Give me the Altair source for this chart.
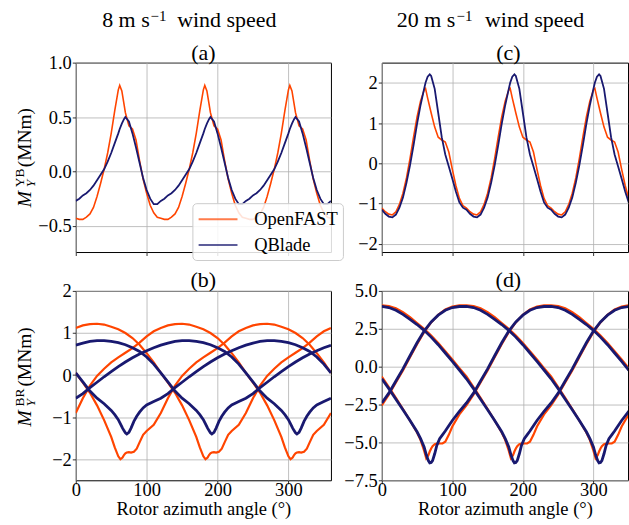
import altair as alt
import pandas as pd

FONT = "Liberation Serif"
MODELS = ["OpenFAST", "QBlade"]
COLORS = ["#ff4500", "#191970"]

# ---------------- top row: yaw-bearing moment (one curve per model) ----------------
TOP_ANGLES = [0, 5, 10, 15, 20, 25, 30, 35, 40, 45, 50, 55, 60, 62, 65, 68, 70, 75, 80, 85, 90, 95, 100, 105, 110, 115,
              120, 125, 130, 135, 140, 145, 150, 155, 160, 165, 170, 175, 180, 182, 185, 188, 190, 195, 200, 205, 210, 215, 220, 225, 230, 235,
              240, 245, 250, 255, 260, 265, 270, 275, 280, 285, 290, 295, 300, 302, 305, 308, 310, 315, 320, 325, 330, 335, 340, 345, 350, 355,
              360]

A_OPENFAST = [-0.43, -0.44, -0.44, -0.42, -0.39, -0.33, -0.23, -0.11, 0.02, 0.17, 0.35, 0.56, 0.75, 0.79, 0.74, 0.62, 0.54, 0.42, 0.39, 0.29, 0.10, -0.07, -0.20, -0.31, -0.38, -0.42,
              -0.43, -0.44, -0.44, -0.42, -0.39, -0.33, -0.23, -0.11, 0.02, 0.17, 0.35, 0.56, 0.75, 0.79, 0.74, 0.62, 0.54, 0.42, 0.39, 0.29, 0.10, -0.07, -0.20, -0.31, -0.38, -0.42,
              -0.43, -0.44, -0.44, -0.42, -0.39, -0.33, -0.23, -0.11, 0.02, 0.17, 0.35, 0.56, 0.75, 0.79, 0.74, 0.62, 0.54, 0.42, 0.39, 0.29, 0.10, -0.07, -0.20, -0.31, -0.38, -0.42,
              -0.43]
A_QBLADE = [-0.27, -0.25, -0.22, -0.20, -0.17, -0.13, -0.08, -0.03, 0.02, 0.09, 0.17, 0.26, 0.35, 0.39, 0.44, 0.48, 0.50, 0.46, 0.35, 0.22, 0.08, -0.06, -0.17, -0.25, -0.30, -0.30,
            -0.27, -0.25, -0.22, -0.20, -0.17, -0.13, -0.08, -0.03, 0.02, 0.09, 0.17, 0.26, 0.35, 0.39, 0.44, 0.48, 0.50, 0.46, 0.35, 0.22, 0.08, -0.06, -0.17, -0.25, -0.30, -0.30,
            -0.27, -0.25, -0.22, -0.20, -0.17, -0.13, -0.08, -0.03, 0.02, 0.09, 0.17, 0.26, 0.35, 0.39, 0.44, 0.48, 0.50, 0.46, 0.35, 0.22, 0.08, -0.06, -0.17, -0.25, -0.30, -0.30,
            -0.27]
C_OPENFAST = [-1.11, -1.20, -1.26, -1.28, -1.20, -1.02, -0.74, -0.36, 0.12, 0.65, 1.15, 1.55, 1.82, 1.86, 1.62, 1.40, 1.25, 0.90, 0.65, 0.58, 0.53, 0.28, -0.15, -0.55, -0.87, -1.05,
              -1.11, -1.20, -1.26, -1.28, -1.20, -1.02, -0.74, -0.36, 0.12, 0.65, 1.15, 1.55, 1.82, 1.86, 1.62, 1.40, 1.25, 0.90, 0.65, 0.58, 0.53, 0.28, -0.15, -0.55, -0.87, -1.05,
              -1.11, -1.20, -1.26, -1.28, -1.20, -1.02, -0.74, -0.36, 0.12, 0.65, 1.15, 1.55, 1.82, 1.86, 1.62, 1.40, 1.25, 0.90, 0.65, 0.58, 0.53, 0.28, -0.15, -0.55, -0.87, -1.05,
              -1.11]
C_QBLADE = [-1.15, -1.25, -1.32, -1.34, -1.27, -1.10, -0.85, -0.48, -0.05, 0.45, 0.98, 1.45, 1.85, 2.00, 2.15, 2.21, 2.17, 1.85, 1.25, 0.65, 0.22, -0.08, -0.38, -0.70, -0.97, -1.10,
            -1.15, -1.25, -1.32, -1.34, -1.27, -1.10, -0.85, -0.48, -0.05, 0.45, 0.98, 1.45, 1.85, 2.00, 2.15, 2.21, 2.17, 1.85, 1.25, 0.65, 0.22, -0.08, -0.38, -0.70, -0.97, -1.10,
            -1.15, -1.25, -1.32, -1.34, -1.27, -1.10, -0.85, -0.48, -0.05, 0.45, 0.98, 1.45, 1.85, 2.00, 2.15, 2.21, 2.17, 1.85, 1.25, 0.65, 0.22, -0.08, -0.38, -0.70, -0.97, -1.10,
            -1.15]

# ---------------- bottom row: blade-root moment, three blades per model ----------------
BLADE1_ANGLES = [0, 10, 20, 30, 40, 50, 55, 60, 63, 66, 68, 70, 72, 75, 78, 82, 86, 90, 95, 100, 110, 120, 130, 140, 150,
                 160, 170, 180, 190, 200, 210, 220, 230, 240, 250, 260, 270, 280, 290, 300, 310, 320, 330, 340, 350, 360]
BLADE2_ANGLES = [0, 10, 20, 30, 40, 50, 60, 70, 80, 90, 100, 110, 120, 130, 140, 150, 160, 170, 175, 180, 183, 186, 188, 190,
                 192, 195, 198, 202, 206, 210, 215, 220, 230, 240, 250, 260, 270, 280, 290, 300, 310, 320, 330, 340, 350, 360]
BLADE3_ANGLES = [0, 10, 20, 30, 40, 50, 60, 70, 80, 90, 100, 110, 120, 130, 140, 150, 160, 170, 180, 190, 200, 210, 220, 230,
                 240, 250, 260, 270, 280, 290, 295, 300, 303, 306, 308, 310, 312, 315, 318, 322, 326, 330, 335, 340, 350, 360]

# panel (b), 8 m/s
B_OPENFAST_1 = [0.05, -0.18, -0.42, -0.72, -1.07, -1.47, -1.72, -1.93, -2.0, -1.96, -1.9, -1.86, -1.84, -1.83, -1.84, -1.82, -1.75, -1.6, -1.42,
                -1.33, -1.18, -0.9, -0.55, -0.25, -0.02, 0.15, 0.3, 0.42, 0.53, 0.64, 0.77, 0.92, 1.04, 1.12, 1.18, 1.21, 1.22, 1.2, 1.15, 1.09, 1.0, 0.88, 0.72, 0.52, 0.3, 0.05]
B_OPENFAST_2 = [1.12, 1.18, 1.21, 1.22, 1.2, 1.15, 1.09, 1.0, 0.88, 0.72, 0.52, 0.3, 0.05,
                -0.18, -0.42, -0.72, -1.07, -1.47,
                -1.72, -1.93, -2.0, -1.96, -1.9, -1.86, -1.84, -1.83, -1.84, -1.82, -1.75, -1.6, -1.42,
                -1.33, -1.18, -0.9, -0.55, -0.25, -0.02, 0.15, 0.3, 0.42, 0.53, 0.64, 0.77, 0.92, 1.04, 1.12]
B_OPENFAST_3 = [-0.9, -0.55, -0.25, -0.02, 0.15, 0.3, 0.42, 0.53, 0.64, 0.77, 0.92, 1.04, 1.12, 1.18, 1.21, 1.22, 1.2, 1.15, 1.09, 1.0, 0.88, 0.72, 0.52, 0.3, 0.05,
                -0.18, -0.42, -0.72, -1.07, -1.47,
                -1.72, -1.93, -2.0, -1.96, -1.9, -1.86, -1.84, -1.83, -1.84, -1.82, -1.75, -1.6, -1.42,
                -1.33, -1.18, -0.9]
B_QBLADE_1 = [0.05, -0.16, -0.38, -0.55, -0.68, -0.84, -0.94, -1.06, -1.16, -1.26, -1.32, -1.37, -1.4, -1.36, -1.26, -1.1, -0.98, -0.88, -0.78,
              -0.71, -0.63, -0.55, -0.44, -0.3, -0.17, -0.04, 0.08, 0.2, 0.31, 0.41, 0.5, 0.58, 0.65, 0.71, 0.76, 0.8, 0.82, 0.82, 0.8, 0.77, 0.72, 0.65, 0.56, 0.43, 0.26, 0.05]
B_QBLADE_2 = [0.71, 0.76, 0.8, 0.82, 0.82, 0.8, 0.77, 0.72, 0.65, 0.56, 0.43, 0.26, 0.05,
              -0.16, -0.38, -0.55, -0.68, -0.84,
              -0.94, -1.06, -1.16, -1.26, -1.32, -1.37, -1.4, -1.36, -1.26, -1.1, -0.98, -0.88, -0.78,
              -0.71, -0.63, -0.55, -0.44, -0.3, -0.17, -0.04, 0.08, 0.2, 0.31, 0.41, 0.5, 0.58, 0.65, 0.71]
B_QBLADE_3 = [-0.55, -0.44, -0.3, -0.17, -0.04, 0.08, 0.2, 0.31, 0.41, 0.5, 0.58, 0.65, 0.71, 0.76, 0.8, 0.82, 0.82, 0.8, 0.77, 0.72, 0.65, 0.56, 0.43, 0.26, 0.05,
              -0.16, -0.38, -0.55, -0.68, -0.84,
              -0.94, -1.06, -1.16, -1.26, -1.32, -1.37, -1.4, -1.36, -1.26, -1.1, -0.98, -0.88, -0.78,
              -0.71, -0.63, -0.55]

# panel (d), 20 m/s
D_OPENFAST_1 = [-0.65, -1.35, -2.05, -2.8, -3.55, -4.35, -4.85, -5.55, -6.05, -5.85, -5.6, -5.4, -5.25, -5.12, -5.08, -5.07, -5.07, -4.95, -4.5,
                -3.95, -3.15, -2.55, -1.85, -1.05, -0.25, 0.62, 1.48, 2.28, 2.92, 3.42, 3.78, 3.97, 4.05, 4.05, 4.0, 3.85, 3.6, 3.27, 2.88, 2.5, 2.06, 1.56, 1.02, 0.47, -0.1, -0.65]
D_OPENFAST_2 = [4.05, 4.0, 3.85, 3.6, 3.27, 2.88, 2.5, 2.06, 1.56, 1.02, 0.47, -0.1, -0.65,
                -1.35, -2.05, -2.8, -3.55, -4.35,
                -4.85, -5.55, -6.05, -5.85, -5.6, -5.4, -5.25, -5.12, -5.08, -5.07, -5.07, -4.95, -4.5,
                -3.95, -3.15, -2.55, -1.85, -1.05, -0.25, 0.62, 1.48, 2.28, 2.92, 3.42, 3.78, 3.97, 4.05, 4.05]
D_OPENFAST_3 = [-2.55, -1.85, -1.05, -0.25, 0.62, 1.48, 2.28, 2.92, 3.42, 3.78, 3.97, 4.05, 4.05, 4.0, 3.85, 3.6, 3.27, 2.88, 2.5, 2.06, 1.56, 1.02, 0.47, -0.1, -0.65,
                -1.35, -2.05, -2.8, -3.55, -4.35,
                -4.85, -5.55, -6.05, -5.85, -5.6, -5.4, -5.25, -5.12, -5.08, -5.07, -5.07, -4.95, -4.5,
                -3.95, -3.15, -2.55]
D_QBLADE_1 = [-0.8, -1.45, -2.15, -2.85, -3.55, -4.3, -4.75, -5.3, -5.8, -6.2, -6.35, -6.33, -6.2, -5.75, -5.2, -4.75, -4.5, -4.25, -3.9,
              -3.55, -2.95, -2.4, -1.75, -0.95, -0.15, 0.72, 1.58, 2.35, 2.95, 3.4, 3.72, 3.9, 3.97, 3.98, 3.9, 3.72, 3.45, 3.12, 2.78, 2.4, 1.95, 1.45, 0.9, 0.35, -0.22, -0.8]
D_QBLADE_2 = [3.98, 3.9, 3.72, 3.45, 3.12, 2.78, 2.4, 1.95, 1.45, 0.9, 0.35, -0.22, -0.8,
              -1.45, -2.15, -2.85, -3.55, -4.3,
              -4.75, -5.3, -5.8, -6.2, -6.35, -6.33, -6.2, -5.75, -5.2, -4.75, -4.5, -4.25, -3.9,
              -3.55, -2.95, -2.4, -1.75, -0.95, -0.15, 0.72, 1.58, 2.35, 2.95, 3.4, 3.72, 3.9, 3.97, 3.98]
D_QBLADE_3 = [-2.4, -1.75, -0.95, -0.15, 0.72, 1.58, 2.35, 2.95, 3.4, 3.72, 3.9, 3.97, 3.98, 3.9, 3.72, 3.45, 3.12, 2.78, 2.4, 1.95, 1.45, 0.9, 0.35, -0.22, -0.8,
              -1.45, -2.15, -2.85, -3.55, -4.3,
              -4.75, -5.3, -5.8, -6.2, -6.35, -6.33, -6.2, -5.75, -5.2, -4.75, -4.5, -4.25, -3.9,
              -3.55, -2.95, -2.4]

X_TICKS = [0, 100, 200, 300]
WIND_SPEEDS = ["8", "20"]
PANEL_LETTERS = ["(a)", "(b)", "(c)", "(d)"]


def top_frame(of_vals, qb_vals):
    rows = []
    for model, vals in zip(MODELS, (of_vals, qb_vals)):
        assert len(vals) == len(TOP_ANGLES)
        rows += [{"angle": a, "value": v, "model": model, "blade": 1} for a, v in zip(TOP_ANGLES, vals)]
    return pd.DataFrame(rows)


def bottom_frame(of_series, qb_series):
    rows = []
    grids = (BLADE1_ANGLES, BLADE2_ANGLES, BLADE3_ANGLES)
    for model, series in zip(MODELS, (of_series, qb_series)):
        for blade, (angles, vals) in enumerate(zip(grids, series), start=1):
            assert len(angles) == len(vals)
            rows += [{"angle": a, "value": v, "model": model, "blade": blade} for a, v in zip(angles, vals)]
    return pd.DataFrame(rows)


LEGEND = alt.Legend(orient="none", legendX=117, legendY=141, title=None, direction="vertical",
                    symbolType="M-1,0H3", symbolSize=380, symbolStrokeWidth=2, symbolOpacity=0.7,
                    labelFont=FONT, labelFontSize=18.5, labelColor="black", labelOffset=35,
                    padding=5, rowPadding=5, strokeColor="#cccccc",
                    fillColor="rgba(255,255,255,0.85)", cornerRadius=4)

_ONE = alt.Data(values=[{"k": 0}])


def text(t, x, y, size, style="normal", angle=0, align="left"):
    return alt.Chart(_ONE).mark_text(text=t, font=FONT, fontSize=size, fontStyle=style, angle=angle,
                                     align=align, baseline="alphabetic", color="black").encode(
        x=alt.value(x), y=alt.value(y))


def ylabel_layers(sup, y0):
    return [text("M", -45, y0, 19.5, "italic", 270),
            text("Y", -41, y0 - 20, 13.5, "italic", 270),
            text(sup, -52, y0 - 20, 13.5, "normal", 270),
            text("(MNm)", -45, y0 - 40, 19.5, "normal", 270)]


def header_layers(speed, x0, sup_x, rest_x):
    return [text(f"{speed} m s", x0, -36, 22),
            text("−1", sup_x, -41.5, 15),
            text("wind speed", rest_x, -36, 22)]


def panel(df, xmax, width, ydom, yticks, yfmt, letter, letter_x, letter_y, bottom, widths,
          header=None, legend=False, ylabel=None):
    x = alt.X("angle:Q", scale=alt.Scale(domain=[0, xmax], nice=False, zero=False),
              axis=alt.Axis(values=X_TICKS, format="d", labels=bottom),
              title="Rotor azimuth angle (°)" if bottom else None)
    y = alt.Y("value:Q", scale=alt.Scale(domain=ydom, nice=False, zero=False),
              axis=alt.Axis(values=yticks, format=yfmt), title=None)
    color = alt.Color("model:N", scale=alt.Scale(domain=MODELS, range=COLORS),
                      legend=LEGEND if legend else None)
    layers = []
    for model, sw in zip(MODELS, widths):
        layers.append(alt.Chart(df).transform_filter(alt.datum.model == model)
                      .mark_line(strokeWidth=sw, clip=True)
                      .encode(x=x, y=y, color=color, detail="blade:N", order="angle:Q"))
    if ylabel:
        layers += ylabel_layers(*ylabel)
    layers.append(text(letter, letter_x, letter_y, 22, align="center"))
    if header:
        layers += header_layers(*header)
    return alt.layer(*layers).properties(width=width, height=190)


pa = panel(top_frame(A_OPENFAST, A_QBLADE), 360, 256, [-0.74, 1.0], [-0.5, 0.0, 0.5, 1.0], ".1f",
           PANEL_LETTERS[0], 128, -3, False, (1.6, 1.8), header=(WIND_SPEEDS[0], 26.5, 75, 101.7),
           legend=True, ylabel=("YB", 145))
pc = panel(top_frame(C_OPENFAST, C_QBLADE), 349, 247, [-2.2, 2.5], [-2, -1, 0, 1, 2], "d",
           PANEL_LETTERS[2], 127, -3, False, (1.6, 1.8), header=(WIND_SPEEDS[1], 15, 75, 103.5))
pb = panel(bottom_frame((B_OPENFAST_1, B_OPENFAST_2, B_OPENFAST_3), (B_QBLADE_1, B_QBLADE_2, B_QBLADE_3)),
           360, 256, [-2.5, 2.0], [-2, -1, 0, 1, 2], "d", PANEL_LETTERS[1], 128, -4, True, (2.2, 2.8),
           ylabel=("BR", 136))
pd_ = panel(bottom_frame((D_OPENFAST_1, D_OPENFAST_2, D_OPENFAST_3), (D_QBLADE_1, D_QBLADE_2, D_QBLADE_3)),
            349, 247, [-7.5, 5.0], [-7.5, -5.0, -2.5, 0.0, 2.5, 5.0], ".1f", PANEL_LETTERS[3], 127, -4,
            True, (2.2, 2.8))

chart = (alt.concat(pa, pc, pb, pd_, columns=2, spacing=alt.RowColnumber(row=39, column=51), bounds="flush")
         .resolve_scale(color="independent")
         .resolve_legend(color="independent")
         .configure_view(stroke="black", strokeWidth=1)
         .configure_axis(grid=True, gridColor="#b0b0b0", gridWidth=0.8, domain=False, ticks=True,
                         tickColor="black", tickSize=3.5, tickWidth=0.8,
                         labelFont=FONT, labelFontSize=18.5, labelColor="black", labelPadding=1,
                         labelFlush=False, labelOverlap=False,
                         titleFont=FONT, titleFontSize=18.5, titleFontWeight="normal", titleColor="black",
                         titlePadding=0)
         .configure_axisX(labelPadding=-3)
         .properties(background="white", padding={"left": 12, "top": 7, "right": 0, "bottom": 0}))

chart.save("out.html", embed_options={"renderer": "svg", "actions": False})
